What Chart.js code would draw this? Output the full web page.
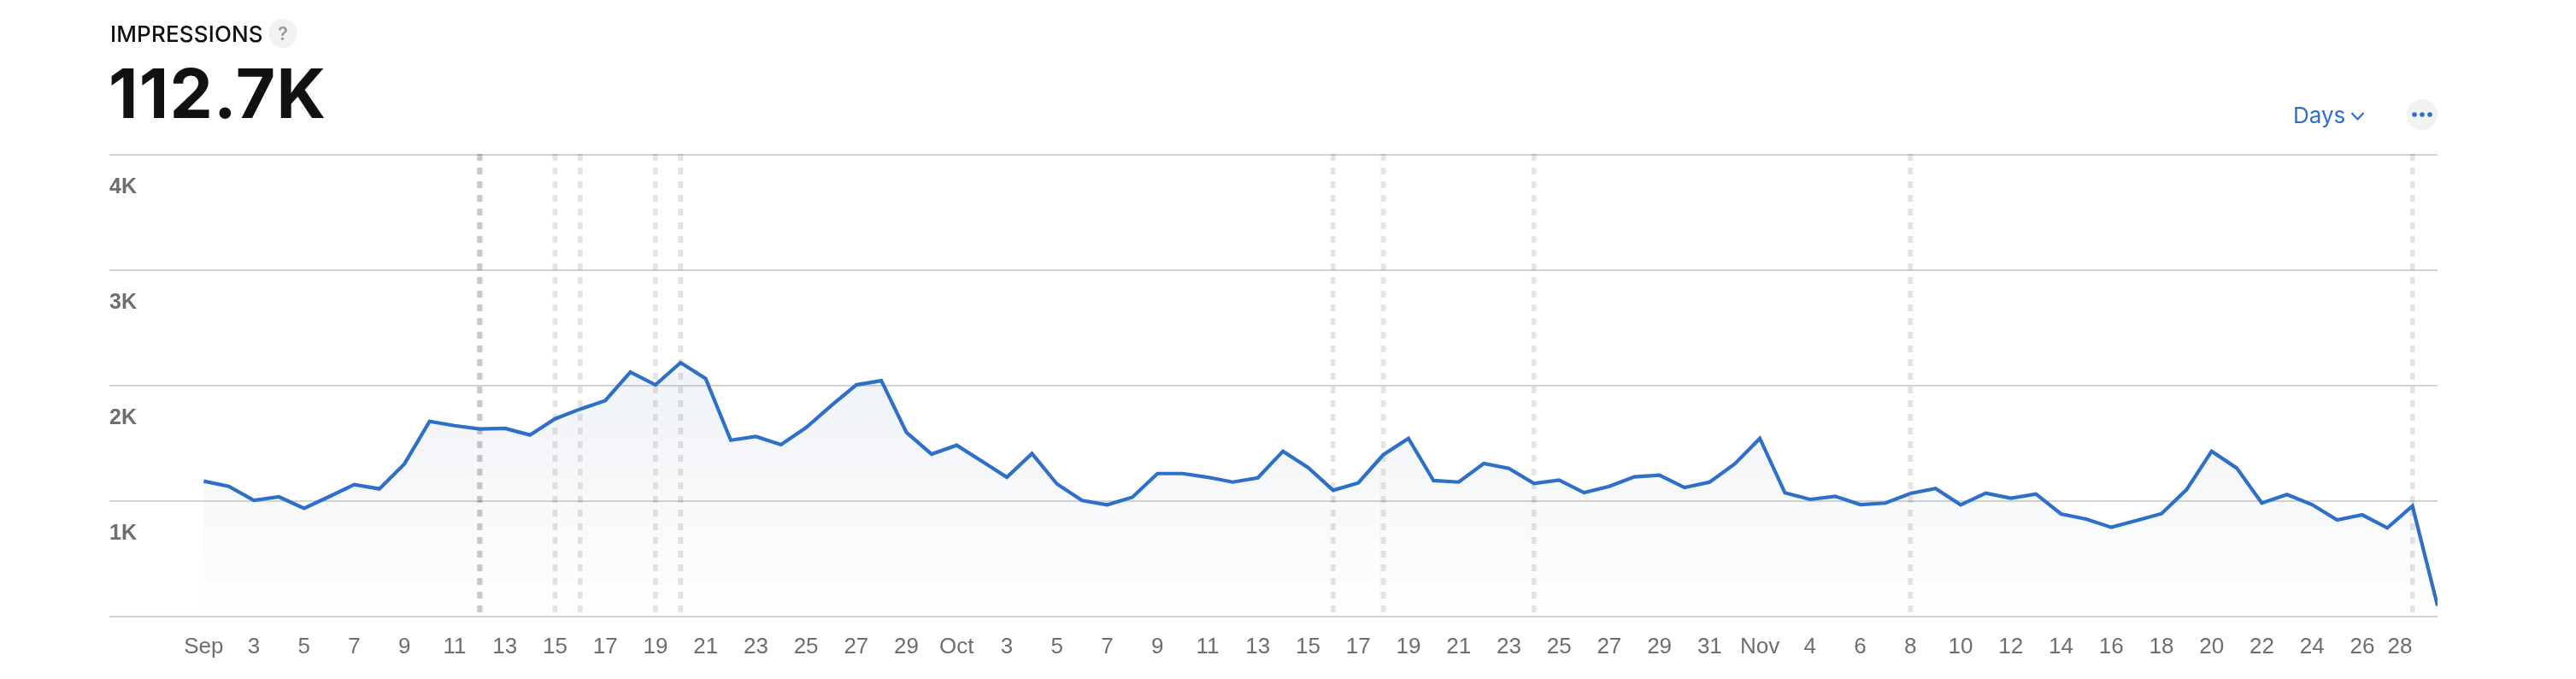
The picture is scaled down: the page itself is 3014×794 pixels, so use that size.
<!DOCTYPE html>
<html><head><meta charset="utf-8">
<script src="https://cdn.jsdelivr.net/npm/chart.js@4/dist/chart.umd.min.js"></script>
<style>
html,body{margin:0;padding:0;background:#fff;width:3014px;height:794px;overflow:hidden}
#c{position:absolute;left:0;top:0}
.t{position:absolute;white-space:nowrap;font-family:Inter,sans-serif}
#name{left:129px;top:25px;font-size:26px;font-weight:500;color:#111;line-height:30px;letter-spacing:.15px}
#help{left:314px;top:22px;width:34px;height:34px;border-radius:50%;background:#f2f2f2;color:#9a9a9a;font-size:22px;font-weight:600;line-height:34px;text-align:center}
#total{left:127px;top:61px;font-size:80px;font-weight:700;color:#111;line-height:96px;letter-spacing:1.2px}
#days{left:2683px;top:118px;font-size:26px;color:#2d6fc9;line-height:34px}
#chev{position:absolute;left:2750px;top:130px}
#more{position:absolute;left:2816px;top:116px}
</style></head><body>
<canvas id="c" width="3014" height="794"></canvas>
<div class="t" id="name">IMPRESSIONS</div>
<div class="t" id="help">?</div>
<div class="t" id="total">112.7K</div>
<div class="t" id="days">Days</div>
<svg id="chev" width="17" height="12"><path d="M1.5 2 L8.5 9.5 L15.5 2" fill="none" stroke="#2d6fc9" stroke-width="2.2"/></svg>
<svg id="more" width="36" height="36"><circle cx="18" cy="18" r="18" fill="#f2f2f2"/><circle cx="9" cy="18" r="2.8" fill="#2d6fc9"/><circle cx="18" cy="18" r="2.8" fill="#2d6fc9"/><circle cx="27" cy="18" r="2.8" fill="#2d6fc9"/></svg>
<script>
const impressions=[1173,1128,1007,1037,938,1039,1143,1106,1323,1691,1654,1625,1630,1573,1713,1797,1871,2118,2007,2200,2062,1528,1560,1489,1637,1827,2007,2044,1595,1407,1484,1346,1207,1412,1148,1005,968,1034,1239,1239,1207,1165,1202,1432,1291,1094,1158,1402,1543,1178,1165,1326,1284,1153,1183,1074,1128,1210,1225,1118,1165,1323,1543,1072,1015,1042,970,983,1067,1109,968,1069,1025,1062,889,844,773,832,891,1099,1432,1286,983,1057,970,837,881,768,958,94];
const tickLabels=['Sep','3','5','7','9','11','13','15','17','19','21','23','25','27','29','Oct','3','5','7','9','11','13','15','17','19','21','23','25','27','29','31','Nov','4','6','8','10','12','14','16','18','20','22','24','26','28'];
const yTicks=[0,1000,2000,3000,4000];
const yLabels=['','1K','2K','3K','4K'];
const markersDark=[11];
const markersLight=[14,15,18,19,45,47,53,68,88];
const BLUE='#2d6fc9';
const GREY='#6e6e6e';

const markerPlugin={id:'markers',beforeDatasetDraw(chart,args){
  if(args.index!==1)return;
  const {ctx,chartArea:a,scales:{x}}=chart;
  const draw=(list,col)=>{ctx.save();ctx.strokeStyle=col;ctx.lineWidth=6;ctx.setLineDash([8,8]);
    list.forEach(i=>{const p=x.getPixelForValue(i);ctx.beginPath();ctx.moveTo(p,a.top-1);ctx.lineTo(p,a.bottom-5);ctx.stroke();});ctx.restore();};
  draw(markersLight,'rgba(0,0,0,0.1)');draw(markersDark,'rgba(0,0,0,0.21)');
}};
const points=impressions.map((v,i)=>({x:i,y:v}));

new Chart(document.getElementById('c'),{
  type:'line',
  data:{datasets:[{
    data:points,order:2,borderWidth:0,pointRadius:0,tension:0,fill:'origin',
    backgroundColor(ctx){
      const {chart}=ctx;if(!chart.chartArea)return 'transparent';
      const y=chart.scales.y,g=chart.ctx.createLinearGradient(0,y.getPixelForValue(2200),0,y.getPixelForValue(0));
      g.addColorStop(0,'rgba(40,90,170,0.075)');g.addColorStop(0.5,'rgba(40,80,120,0.04)');g.addColorStop(1,'rgba(40,80,120,0.004)');return g;
    }
  },{
    data:points,order:1,fill:false,
    borderColor:BLUE,borderWidth:4.2,pointRadius:0,tension:0,
    borderJoinStyle:'miter',borderCapStyle:'butt'
  }]},
  options:{
    responsive:false,animation:false,
    layout:{padding:{left:128,right:162,top:181,bottom:0}},
    plugins:{legend:{display:false},tooltip:{enabled:false}},
    scales:{
      x:{type:'linear',min:-110.3/29.37,max:89,
        border:{display:false},grid:{display:false},
        afterBuildTicks(s){s.ticks=tickLabels.map((l,k)=>({value:k*2,label:l}));s.ticks[s.ticks.length-1].value-=0.5;},
        afterFit(s){s.height=73;s.paddingLeft=0;s.paddingRight=0;},
        ticks:{autoSkip:false,maxRotation:0,padding:12,color:GREY,font:{family:'"Liberation Sans"',size:26},
          callback(v,i){return tickLabels[i];}}
      },
      y:{min:0,max:4000,
        border:{display:false},
        grid:{color:'#d4d4d4',lineWidth:2,drawTicks:false},
        afterBuildTicks(s){s.ticks=yTicks.map(v=>({value:v}));},
        afterFit(s){s.width=0;},
        ticks:{mirror:true,padding:0,labelOffset:38,color:GREY,font:{family:'"Liberation Sans"',size:25,weight:'bold'},
          callback(v){return yLabels[yTicks.indexOf(v)];}}
      }
    }
  },
  plugins:[markerPlugin]
});
</script>
</body></html>
